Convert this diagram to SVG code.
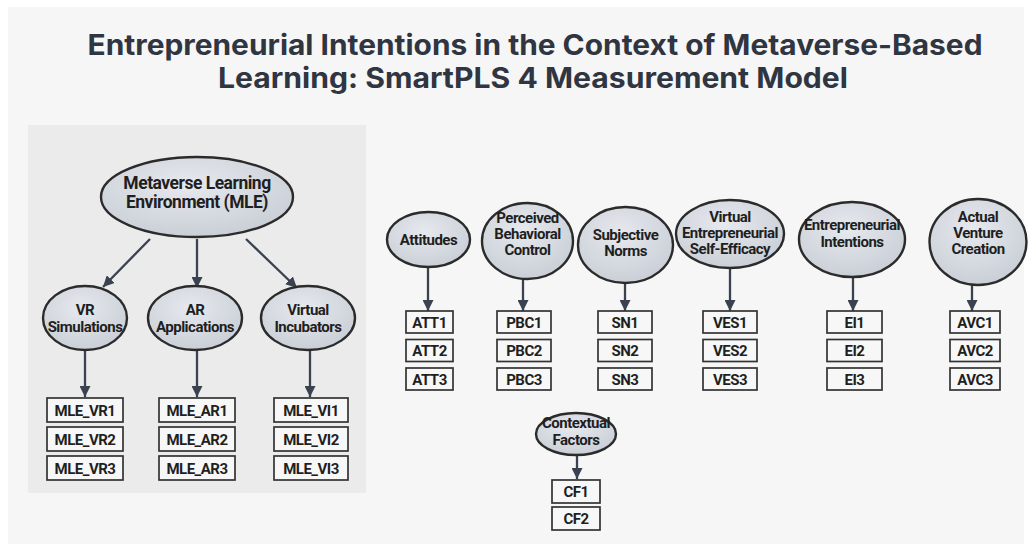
<svg xmlns="http://www.w3.org/2000/svg" width="1032" height="544" viewBox="0 0 1032 544">
<defs>
<radialGradient id="eg" cx="0.45" cy="0.35" r="0.7">
<stop offset="0" stop-color="#e6e9ee"/>
<stop offset="1" stop-color="#c8cdd5"/>
</radialGradient>
<marker id="ah" viewBox="0 0 10 10" refX="10" refY="5" markerWidth="11" markerHeight="11" markerUnits="userSpaceOnUse" orient="auto">
<path d="M0,0 L10,5 L0,10 z" fill="#3a4250"/>
</marker>
</defs>
<style>
.title{font-family:Inter,Roboto,"Liberation Sans",sans-serif;font-weight:700;font-size:28px;fill:#2f3541;text-anchor:middle}
.lat{fill:url(#eg);stroke:#2b2b2b;stroke-width:2.4}
.lt{font-family:Roboto,"Liberation Sans",sans-serif;font-weight:700;font-size:15px;fill:#1f1f1f;text-anchor:middle;letter-spacing:-0.5px}
.big{font-size:17.5px}
.box{fill:#f7f7f7;stroke:#333;stroke-width:1.7}
.bt{font-family:Roboto,"Liberation Sans",sans-serif;font-weight:700;font-size:15px;fill:#1f1f1f;text-anchor:middle;letter-spacing:-0.5px}
.cn{stroke:#3a4250;stroke-width:2.3;fill:none;marker-end:url(#ah)}
</style>
<rect x="0" y="0" width="1032" height="544" fill="#ffffff"/>
<rect x="8" y="7" width="1016" height="537" fill="#f6f6f6"/>
<rect x="28" y="125" width="338" height="368" fill="#ebebeb"/>
<g id="title">
<text class="title" x="535" y="55" textLength="895" lengthAdjust="spacingAndGlyphs">Entrepreneurial Intentions in the Context of Metaverse-Based</text>
<text class="title" x="533" y="88" textLength="630" lengthAdjust="spacingAndGlyphs">Learning: SmartPLS 4 Measurement Model</text>
</g>
<g id="connectors">
<line class="cn" x1="150" y1="239" x2="103" y2="287"/>
<line class="cn" x1="197" y1="239" x2="197" y2="288"/>
<line class="cn" x1="246" y1="239" x2="297" y2="288"/>
<line class="cn" x1="85" y1="351" x2="85" y2="397"/>
<line class="cn" x1="197" y1="351" x2="197" y2="397"/>
<line class="cn" x1="310" y1="351" x2="310" y2="397"/>
<line class="cn" x1="428" y1="267" x2="428" y2="311"/>
<line class="cn" x1="523" y1="279" x2="523" y2="311"/>
<line class="cn" x1="625" y1="283" x2="625" y2="311"/>
<line class="cn" x1="730" y1="268" x2="730" y2="311"/>
<line class="cn" x1="853" y1="277" x2="853" y2="311"/>
<line class="cn" x1="972" y1="285" x2="972" y2="311"/>
<line class="cn" x1="577" y1="455" x2="577" y2="479"/>
</g>
<g id="MLE">
<ellipse class="lat" cx="197" cy="197" rx="96" ry="40"/>
<text class="lt big" x="197" y="189">Metaverse Learning</text>
<text class="lt big" x="197" y="208">Environment (MLE)</text>
</g>
<g id="VR">
<ellipse class="lat" cx="85" cy="318" rx="42" ry="32"/>
<text class="lt" x="85" y="315">VR</text>
<text class="lt" x="85" y="332">Simulations</text>
</g>
<g id="AR">
<ellipse class="lat" cx="195" cy="318" rx="47" ry="32"/>
<text class="lt" x="195" y="315">AR</text>
<text class="lt" x="195" y="332">Applications</text>
</g>
<g id="VI">
<ellipse class="lat" cx="308" cy="318" rx="47" ry="32"/>
<text class="lt" x="308" y="315">Virtual</text>
<text class="lt" x="308" y="332">Incubators</text>
</g>
<g id="VR-items">
<rect class="box" x="47" y="398" width="76" height="24"/><text class="bt" x="85" y="415.5">MLE_VR1</text>
<rect class="box" x="47" y="427" width="76" height="24"/><text class="bt" x="85" y="444.5">MLE_VR2</text>
<rect class="box" x="47" y="456" width="76" height="24"/><text class="bt" x="85" y="473.5">MLE_VR3</text>
</g>
<g id="AR-items">
<rect class="box" x="159" y="398" width="76" height="24"/><text class="bt" x="197" y="415.5">MLE_AR1</text>
<rect class="box" x="159" y="427" width="76" height="24"/><text class="bt" x="197" y="444.5">MLE_AR2</text>
<rect class="box" x="159" y="456" width="76" height="24"/><text class="bt" x="197" y="473.5">MLE_AR3</text>
</g>
<g id="VI-items">
<rect class="box" x="274" y="398" width="74" height="24"/><text class="bt" x="311" y="415.5">MLE_VI1</text>
<rect class="box" x="274" y="427" width="74" height="24"/><text class="bt" x="311" y="444.5">MLE_VI2</text>
<rect class="box" x="274" y="456" width="74" height="24"/><text class="bt" x="311" y="473.5">MLE_VI3</text>
</g>
<g id="ATT">
<ellipse class="lat" cx="428.5" cy="239.5" rx="41.5" ry="27.5"/>
<text class="lt" x="428.5" y="244.5">Attitudes</text>
<rect class="box" x="406" y="311" width="47" height="22"/><text class="bt" x="429.5" y="327.5">ATT1</text>
<rect class="box" x="406" y="339.5" width="47" height="22"/><text class="bt" x="429.5" y="356">ATT2</text>
<rect class="box" x="406" y="368" width="47" height="22"/><text class="bt" x="429.5" y="384.5">ATT3</text>
</g>
<g id="PBC">
<ellipse class="lat" cx="527.5" cy="241" rx="45.5" ry="38"/>
<text class="lt" x="527.5" y="223">Perceived</text>
<text class="lt" x="527.5" y="239">Behavioral</text>
<text class="lt" x="527.5" y="255">Control</text>
<rect class="box" x="497" y="311" width="54" height="22"/><text class="bt" x="524" y="327.5">PBC1</text>
<rect class="box" x="497" y="339.5" width="54" height="22"/><text class="bt" x="524" y="356">PBC2</text>
<rect class="box" x="497" y="368" width="54" height="22"/><text class="bt" x="524" y="384.5">PBC3</text>
</g>
<g id="SN">
<ellipse class="lat" cx="625.5" cy="245" rx="47.5" ry="38"/>
<text class="lt" x="625.5" y="240">Subjective</text>
<text class="lt" x="625.5" y="256">Norms</text>
<rect class="box" x="598" y="311" width="54" height="22"/><text class="bt" x="625" y="327.5">SN1</text>
<rect class="box" x="598" y="339.5" width="54" height="22"/><text class="bt" x="625" y="356">SN2</text>
<rect class="box" x="598" y="368" width="54" height="22"/><text class="bt" x="625" y="384.5">SN3</text>
</g>
<g id="VES">
<ellipse class="lat" cx="730" cy="234" rx="54" ry="34"/>
<text class="lt" x="730" y="222">Virtual</text>
<text class="lt" x="730" y="238">Entrepreneurial</text>
<text class="lt" x="730" y="254">Self-Efficacy</text>
<rect class="box" x="703" y="311" width="54" height="22"/><text class="bt" x="730" y="327.5">VES1</text>
<rect class="box" x="703" y="339.5" width="54" height="22"/><text class="bt" x="730" y="356">VES2</text>
<rect class="box" x="703" y="368" width="54" height="22"/><text class="bt" x="730" y="384.5">VES3</text>
</g>
<g id="EI">
<ellipse class="lat" cx="852" cy="239.5" rx="53" ry="37.5"/>
<text class="lt" x="852" y="230">Entrepreneurial</text>
<text class="lt" x="852" y="247">Intentions</text>
<rect class="box" x="827" y="311" width="55" height="22"/><text class="bt" x="854.5" y="327.5">EI1</text>
<rect class="box" x="827" y="339.5" width="55" height="22"/><text class="bt" x="854.5" y="356">EI2</text>
<rect class="box" x="827" y="368" width="55" height="22"/><text class="bt" x="854.5" y="384.5">EI3</text>
</g>
<g id="AVC">
<ellipse class="lat" cx="978" cy="242" rx="48.5" ry="43"/>
<text class="lt" x="978" y="222">Actual</text>
<text class="lt" x="978" y="238">Venture</text>
<text class="lt" x="978" y="254">Creation</text>
<rect class="box" x="950" y="311" width="50" height="22"/><text class="bt" x="975" y="327.5">AVC1</text>
<rect class="box" x="950" y="339.5" width="50" height="22"/><text class="bt" x="975" y="356">AVC2</text>
<rect class="box" x="950" y="368" width="50" height="22"/><text class="bt" x="975" y="384.5">AVC3</text>
</g>
<g id="CF">
<ellipse class="lat" cx="576" cy="434" rx="40" ry="21"/>
<text class="lt" x="576" y="428">Contextual</text>
<text class="lt" x="576" y="445">Factors</text>
<rect class="box" x="552" y="480" width="48" height="23"/><text class="bt" x="576" y="496.5">CF1</text>
<rect class="box" x="552" y="507" width="48" height="23"/><text class="bt" x="576" y="523.5">CF2</text>
</g>
</svg>
